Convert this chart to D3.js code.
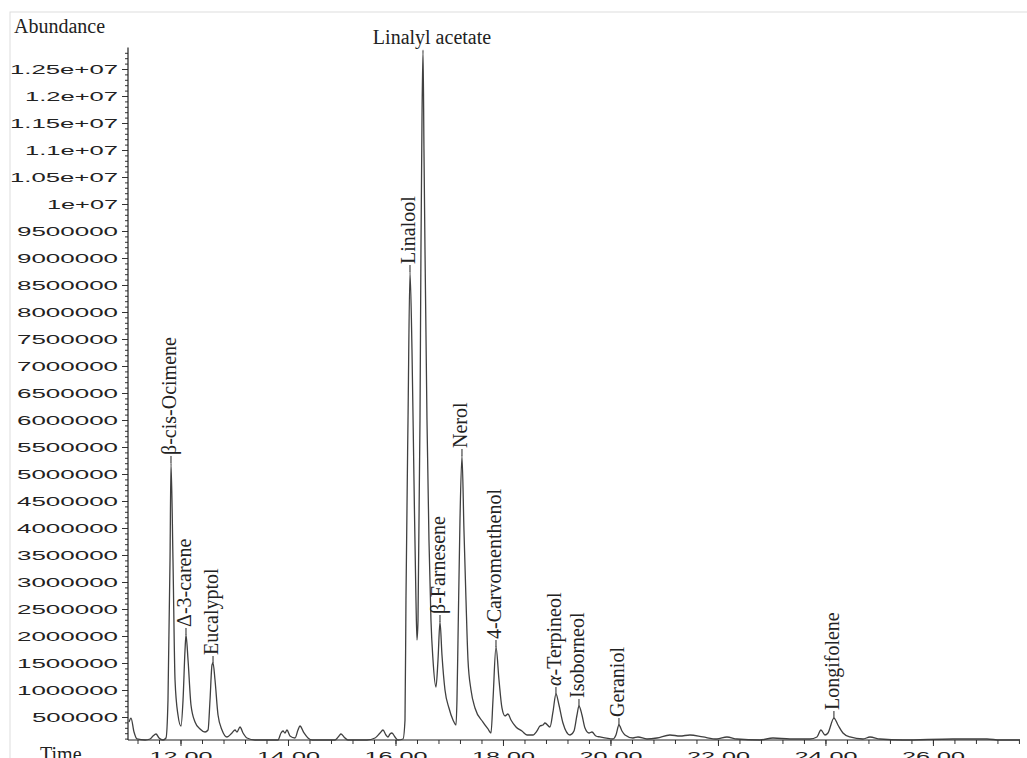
<!DOCTYPE html>
<html>
<head>
<meta charset="utf-8">
<script src="https://cdn.jsdelivr.net/npm/d3@7"></script>
<style>
  body { margin: 0; background: #fff; }
  svg { display: block; }
</style>
</head>
<body>
<div id="chart"></div>
<script>
// retention time (min) and abundance
var times = [11.042, 11.079, 11.135, 11.191, 11.340, 11.433, 11.488, 11.544, 11.600, 11.674,
  11.730, 11.767, 11.805, 11.823, 11.860, 11.898, 11.953, 12.009, 12.047, 12.084,
  12.102, 12.140, 12.195, 12.270, 12.363, 12.456, 12.512, 12.549, 12.586, 12.605,
  12.642, 12.698, 12.772, 12.865, 12.958, 13.014, 13.051, 13.107, 13.163, 13.237,
  13.386, 13.814, 13.870, 13.907, 13.944, 13.981, 14.037, 14.130, 14.186, 14.223,
  14.298, 14.372, 14.447, 14.874, 14.949, 14.986, 15.042, 15.116, 15.470, 15.619,
  15.712, 15.767, 15.823, 15.860, 15.898, 15.935, 15.991, 16.047, 16.140, 16.177,
  16.195, 16.233, 16.270, 16.307, 16.344, 16.381, 16.400, 16.419, 16.456, 16.474,
  16.493, 16.512, 16.530, 16.549, 16.586, 16.623, 16.660, 16.698, 16.753, 16.791,
  16.828, 16.865, 16.921, 16.995, 17.070, 17.126, 17.144, 17.163, 17.200, 17.237,
  17.274, 17.312, 17.349, 17.405, 17.479, 17.628, 17.721, 17.777, 17.814, 17.870,
  17.926, 17.981, 18.037, 18.093, 18.149, 18.242, 18.353, 18.447, 18.558, 18.633,
  18.688, 18.744, 18.781, 18.874, 18.930, 18.986, 19.042, 19.116, 19.247, 19.321,
  19.377, 19.414, 19.470, 19.526, 19.600, 19.656, 19.730, 19.805, 20.047, 20.102,
  20.158, 20.214, 20.270, 20.419, 20.512, 20.679, 20.865, 21.107, 21.293, 21.479,
  21.721, 21.981, 22.167, 22.353, 22.781, 23.023, 23.340, 23.712, 23.842, 23.916,
  23.991, 24.047, 24.158, 24.233, 24.326, 24.456, 24.698, 24.828, 25.014, 25.442,
  26.372, 27.005, 27.247, 27.619];

var abundance = [407000, 481000, 222000, 93000, 74000, 93000, 148000, 185000, 111000, 74000,
  111000, 815000, 3407000, 5204000, 3407000, 1185000, 537000, 333000, 815000, 1741000,
  2019000, 1556000, 722000, 407000, 278000, 222000, 259000, 815000, 1463000, 1500000,
  1185000, 537000, 259000, 130000, 204000, 259000, 222000, 315000, 204000, 111000,
  74000, 74000, 204000, 241000, 204000, 259000, 148000, 111000, 259000, 333000,
  204000, 111000, 74000, 74000, 148000, 185000, 130000, 74000, 74000, 111000,
  204000, 259000, 167000, 130000, 185000, 204000, 130000, 74000, 93000, 444000,
  2667000, 6000000, 8741000, 7296000, 4889000, 2667000, 1926000, 2296000, 6000000, 9148000,
  11556000, 12852000, 11000000, 9148000, 6000000, 3778000, 2296000, 1556000, 1056000, 1556000,
  2259000, 1648000, 1000000, 667000, 444000, 352000, 815000, 1926000, 4148000, 5333000,
  3963000, 2667000, 1556000, 1000000, 667000, 407000, 278000, 204000, 815000, 1796000,
  1185000, 667000, 519000, 556000, 444000, 315000, 241000, 167000, 167000, 241000,
  333000, 352000, 389000, 315000, 593000, 926000, 722000, 389000, 167000, 241000,
  537000, 704000, 537000, 296000, 204000, 222000, 148000, 130000, 93000, 167000,
  352000, 241000, 167000, 111000, 130000, 93000, 111000, 167000, 148000, 167000,
  130000, 93000, 130000, 93000, 74000, 111000, 93000, 93000, 130000, 259000,
  167000, 204000, 481000, 352000, 204000, 130000, 93000, 130000, 93000, 74000,
  93000, 93000, 74000, 74000];

var peakNames = ["β-cis-Ocimene", "Δ-3-carene", "Eucalyptol", "Linalool", "Linalyl acetate",
  "β-Farnesene", "Nerol", "4-Carvomenthenol", "α-Terpineol", "Isoborneol", "Geraniol", "Longifolene"];
var peakTimes = [11.823, 12.102, 12.605, 16.270, 16.512, 16.828, 17.237, 17.870, 18.986, 19.414, 20.158, 24.158];

var xTicks = [12, 14, 16, 18, 20, 22, 24, 26];
var yTicks = d3.range(500000, 12500001, 500000);

var width = 1027, height = 758;
var serif = "'Liberation Serif', 'Times New Roman', serif";

var svg = d3.select("#chart").append("svg")
    .attr("width", width)
    .attr("height", height);

svg.append("rect")
    .attr("x", 10).attr("y", 12)
    .attr("width", width).attr("height", height)
    .attr("fill", "#fff")
    .attr("stroke", "#ddd");

var x = d3.scaleLinear().domain([11.023, 27.62]).range([128, 1020]);
var y = d3.scaleLinear().domain([0, 13000000]).range([744, 42]);
var axisY = 740, yTop = 12900000;

function labelLen(s) {
  var n = 0;
  for (var i = 0; i < s.length; i++) n += s[i] == "." ? 7 : 15;
  return n - 4;
}
function styleTicks(g) {
  g.selectAll("text")
    .attr("font-family", "'Liberation Sans', Arial, sans-serif")
    .attr("font-size", 12.5)
    .attr("fill", "#222")
    .attr("lengthAdjust", "spacingAndGlyphs")
    .attr("textLength", function() { return labelLen(this.textContent); });
  g.selectAll("line").attr("stroke", "#333");
  g.select(".domain").remove();
}

// y axis
var yMinor = svg.append("g").attr("transform", "translate(128,0)")
    .call(d3.axisLeft(y).tickValues(d3.range(100000, yTop, 100000)).tickSize(3).tickFormat(""));
styleTicks(yMinor);

var yAxis = svg.append("g").attr("transform", "translate(128,0)")
    .call(d3.axisLeft(y).tickValues(yTicks).tickSize(6).tickPadding(4)
      .tickFormat(function(v) { return v >= 10000000 ? (v / 10000000) + "e+07" : String(v); }));
styleTicks(yAxis);

svg.append("line")
    .attr("x1", 128).attr("x2", 128)
    .attr("y1", y(yTop)).attr("y2", axisY)
    .attr("stroke", "#222").attr("stroke-width", 1.2);

// x axis
var xMinorVals = d3.range(-2, 40).map(function(i) { return 12 + i * 0.4; })
    .filter(function(v) { return v > 11.05 && v < 27.62; });
var xMinor = svg.append("g").attr("transform", "translate(0," + axisY + ")")
    .call(d3.axisBottom(x).tickValues(xMinorVals).tickSize(4).tickFormat(""));
styleTicks(xMinor);

var xAxis = svg.append("g").attr("transform", "translate(0," + axisY + ")")
    .call(d3.axisBottom(x).tickValues(xTicks).tickSize(6).tickPadding(4)
      .tickFormat(function(v) { return v.toFixed(2); }));
styleTicks(xAxis);
xAxis.selectAll("text").attr("dy", "0.9em");

svg.append("line")
    .attr("x1", 128).attr("x2", 1020)
    .attr("y1", axisY).attr("y2", axisY)
    .attr("stroke", "#222").attr("stroke-width", 1.2);

// axis titles
svg.append("text")
    .attr("x", 14).attr("y", 33)
    .attr("font-family", serif)
    .attr("font-size", 20).attr("fill", "#222")
    .text("Abundance");
svg.append("text")
    .attr("x", 40).attr("y", 761)
    .attr("font-family", serif)
    .attr("font-size", 20).attr("fill", "#222")
    .text("Time");

// trace
var data = times.map(function(t, i) { return [t, abundance[i]]; });
var line = d3.line()
    .curve(d3.curveMonotoneX)
    .x(function(d) { return x(d[0]); })
    .y(function(d) { return y(d[1]); });

svg.append("path")
    .datum(data)
    .attr("fill", "none")
    .attr("stroke", "#404040")
    .attr("stroke-width", 1.3)
    .attr("stroke-linejoin", "round")
    .attr("d", line);

// peak labels
function peakValue(t) {
  var m = 0;
  data.forEach(function(d) { if (Math.abs(d[0] - t) < 0.03 && d[1] > m) m = d[1]; });
  return m;
}

var labels = svg.append("g")
    .attr("font-family", serif)
    .attr("font-size", 20).attr("fill", "#222");

peakNames.forEach(function(name, i) {
  var px = x(peakTimes[i]), py = y(peakValue(peakTimes[i]));
  if (name == "Linalyl acetate") {
    labels.append("text")
      .attr("x", px + 9).attr("y", py - 6)
      .attr("text-anchor", "middle")
      .text(name);
    return;
  }
  labels.append("line")
    .attr("x1", px).attr("x2", px)
    .attr("y1", py).attr("y2", py - 7)
    .attr("stroke", "#222");
  var t = labels.append("text")
    .attr("transform", "translate(" + (px + 5) + "," + (py - 8) + ") rotate(-90)");
  if (name[0] == "α") {
    t.append("tspan").attr("font-style", "italic").text("α");
    t.append("tspan").text(name.slice(1));
  } else {
    t.text(name);
  }
});
</script>
</body>
</html>
